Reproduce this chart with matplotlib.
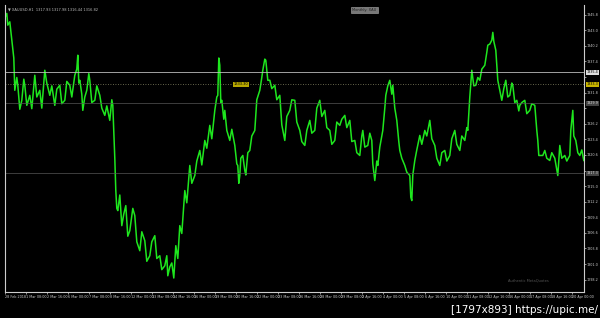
# XAUUSD H1 chart, MetaTrader style

import matplotlib.pyplot as plt

# hour bars (position along the time axis) and prices
bars = [0, 2, 3, 5, 7, 9, 10, 12, 13, 15, 17, 19, 20, 22, 25, 27, 30, 32, 35, 37,
        40, 42, 45, 47, 50, 52, 55, 57, 60, 62, 65, 67, 70, 72, 73, 74, 75, 77, 78, 80,
        82, 84, 85, 87, 90, 92, 95, 97, 100, 102, 105, 107, 108, 110, 111, 112, 113, 115, 117, 119,
        121, 123, 125, 128, 130, 132, 135, 137, 140, 142, 145, 147, 150, 152, 155, 157, 160, 162, 163, 165,
        167, 169, 171, 173, 175, 177, 180, 182, 185, 187, 190, 192, 195, 197, 200, 202, 205, 207, 210, 212,
        213, 214, 215, 216, 217, 219, 220, 222, 225, 227, 230, 232, 233, 234, 235, 236, 238, 240, 241, 243,
        245, 247, 250, 252, 255, 257, 258, 260, 261, 263, 265, 267, 270, 272, 275, 277, 280, 282, 285, 287,
        290, 292, 295, 297, 300, 302, 305, 307, 310, 312, 315, 317, 320, 322, 325, 327, 330, 332, 335, 337,
        340, 342, 345, 347, 350, 352, 355, 357, 358, 360, 363, 365, 367, 368, 370, 372, 373, 375, 378, 380,
        381, 383, 385, 387, 388, 390, 392, 394, 395, 397, 400, 402, 405, 406, 407, 408, 410, 412, 415, 417,
        420, 422, 425, 427, 430, 432, 435, 437, 440, 442, 445, 447, 450, 452, 455, 457, 460, 462, 463, 465,
        467, 469, 471, 473, 475, 477, 480, 482, 483, 485, 487, 488, 489, 491, 493, 495, 497, 499, 501, 503,
        505, 507, 508, 510, 512, 514, 515, 517, 520, 522, 525, 527, 530, 532, 533, 534, 535, 538, 540, 542,
        545, 547, 550, 553, 555, 557, 560, 562, 565, 566, 568, 569, 571, 573, 575, 577, 579]
price = [1345.2, 1346.0, 1343.9, 1344.5, 1341.2, 1338.0, 1332.2, 1334.5, 1333.1, 1328.8,
         1330.4, 1334.2, 1333.1, 1329.5, 1331.3, 1328.9, 1334.9, 1331.0, 1332.2, 1329.0,
         1335.8, 1333.5, 1331.3, 1333.0, 1329.5, 1332.4, 1333.1, 1329.8, 1330.4, 1333.8,
         1333.1, 1331.0, 1334.9, 1336.0, 1338.5, 1333.5, 1334.0, 1331.5, 1328.6, 1331.0,
         1332.2, 1335.2, 1334.0, 1330.0, 1330.4, 1333.0, 1331.3, 1329.0, 1327.7, 1329.4,
         1326.8, 1330.5, 1329.5, 1320.0, 1314.2, 1311.0, 1310.6, 1313.4, 1307.9, 1310.0,
         1311.5, 1306.0, 1307.0, 1311.0, 1309.7, 1305.0, 1303.4, 1306.8, 1305.2, 1301.5,
         1302.5, 1305.0, 1306.1, 1302.0, 1302.5, 1300.0, 1300.7, 1302.5, 1298.9, 1300.5,
         1301.2, 1298.5, 1304.3, 1302.0, 1307.9, 1306.5, 1314.2, 1312.0, 1318.7, 1315.5,
         1316.9, 1319.5, 1321.4, 1318.8, 1323.2, 1321.8, 1325.9, 1323.5, 1328.6, 1331.0,
         1331.3, 1338.0, 1336.7, 1330.0, 1330.4, 1327.0, 1328.6, 1325.0, 1323.2, 1325.2,
         1322.3, 1319.0, 1318.7, 1315.5, 1316.9, 1320.0, 1320.5, 1317.8, 1317.0, 1321.0,
         1321.4, 1324.0, 1325.0, 1330.5, 1332.2, 1334.5, 1335.8, 1337.8, 1337.6, 1334.0,
         1334.0, 1332.5, 1333.1, 1330.5, 1331.3, 1326.0, 1323.2, 1327.5, 1328.6, 1330.5,
         1330.4, 1326.5, 1325.0, 1323.0, 1322.3, 1325.0, 1326.8, 1324.5, 1325.0, 1329.0,
         1330.4, 1327.5, 1328.6, 1325.5, 1325.0, 1322.5, 1323.2, 1326.5, 1325.9, 1327.0,
         1327.7, 1325.5, 1326.8, 1323.0, 1323.2, 1321.0, 1320.5, 1324.0, 1325.0, 1322.0,
         1322.3, 1324.5, 1323.2, 1319.0, 1316.0, 1319.5, 1318.7, 1322.0, 1325.0, 1329.0,
         1331.3, 1333.0, 1334.0, 1331.5, 1333.1, 1329.0, 1326.8, 1323.0, 1321.4, 1320.0,
         1318.7, 1317.5, 1316.9, 1313.0, 1312.4, 1317.0, 1319.6, 1321.5, 1324.1, 1322.5,
         1325.0, 1324.0, 1326.8, 1323.5, 1322.3, 1320.0, 1318.7, 1321.0, 1321.4, 1319.5,
         1320.5, 1323.5, 1325.0, 1322.5, 1321.4, 1324.0, 1323.2, 1325.5, 1325.0, 1331.0,
         1335.8, 1333.0, 1333.1, 1334.5, 1334.0, 1336.0, 1336.7, 1339.0, 1340.3, 1340.5,
         1341.2, 1342.6, 1341.0, 1339.4, 1334.0, 1332.2, 1330.4, 1332.5, 1334.0, 1331.0,
         1331.3, 1333.5, 1333.1, 1330.0, 1330.4, 1328.5, 1329.5, 1330.0, 1330.4, 1328.0,
         1328.6, 1329.8, 1329.5, 1325.0, 1323.2, 1320.5, 1320.5, 1320.5, 1321.4, 1320.0,
         1319.6, 1321.0, 1320.0, 1316.9, 1322.3, 1320.0, 1320.5, 1319.5, 1320.5, 1325.0,
         1328.6, 1324.0, 1323.2, 1321.0, 1320.5, 1321.5, 1319.6]

price_ticks = [1298.2, 1301.0, 1303.8, 1306.6, 1309.4, 1312.2, 1315.0, 1317.8, 1320.6,
               1323.4, 1326.2, 1329.0, 1331.8, 1334.6, 1337.4, 1340.2, 1343.0, 1345.8]
date_pos = [0, 21, 42, 63, 84, 105, 126, 147, 168, 189, 210, 231, 252, 273, 294, 315,
            336, 357, 378, 399, 420, 441, 462, 483, 504, 525, 546, 567]
date_labels = ["28 Feb 2018", "1 Mar 08:00", "2 Mar 16:00", "6 Mar 00:00", "7 Mar 08:00",
               "8 Mar 16:00", "12 Mar 00:00", "13 Mar 08:00", "14 Mar 16:00", "16 Mar 00:00",
               "19 Mar 08:00", "20 Mar 16:00", "22 Mar 00:00", "23 Mar 08:00", "26 Mar 16:00",
               "28 Mar 00:00", "29 Mar 08:00", "2 Apr 16:00", "4 Apr 00:00", "5 Apr 08:00",
               "6 Apr 16:00", "10 Apr 00:00", "11 Apr 08:00", "12 Apr 16:00", "16 Apr 00:00",
               "17 Apr 08:00", "18 Apr 16:00", "20 Apr 00:00"]

# levels drawn on the chart
ask_level = 1335.4
bid_level = 1333.3
level_a = 1329.9
level_b = 1317.3
y_lo, y_hi = 1296.0, 1347.5
levels = [ask_level, bid_level, level_a, level_b]

fig = plt.figure(figsize=(6, 3.18), dpi=100, facecolor='black')
ax = fig.add_axes([0.008, 0.082, 0.965, 0.902], facecolor='black')

ax.plot(bars, price, color='#1ee61e', lw=1.1)

ax.axhline(ask_level, color='#bbbbbb', lw=0.6)
ax.axhline(bid_level, color='#888866', lw=0.6, ls=(0, (1, 2)))
ax.axhline(level_a, color='#555555', lw=0.5)
ax.axhline(level_b, color='#555555', lw=0.5)

ax.set_xlim(0, 579)
ax.set_ylim(y_lo, y_hi)

# scale labels hidden where a level box sits on top of them
ax.yaxis.tick_right()
ax.set_yticks(price_ticks)
ax.set_yticklabels(["" if min(abs(p - lv) for lv in levels) < 1.0 else f"{p:.1f}"
                    for p in price_ticks])
ax.set_xticks(date_pos)
ax.set_xticklabels(date_labels, ha='left')
ax.tick_params(colors='#cccccc', labelsize=2.4, length=1.5, width=0.5, pad=0.8)

ax.spines['top'].set_visible(False)
for side in ['left', 'right', 'bottom']:
    ax.spines[side].set_color('#cccccc')
    ax.spines[side].set_linewidth(0.8)


def frac(v):
    return (v - y_lo) / (y_hi - y_lo)


# price boxes on the right scale
box = dict(boxstyle='square,pad=0.15', lw=0)
ax.text(1.005, frac(ask_level), f"{ask_level:.1f}", transform=ax.transAxes,
        fontsize=2.4, va='center', color='black', bbox=dict(box, fc='#dddddd'))
ax.text(1.005, frac(bid_level), f"{bid_level:.1f}", transform=ax.transAxes,
        fontsize=2.4, va='center', color='black', bbox=dict(box, fc='#c8b400'))
ax.text(1.005, frac(level_a), f"{level_a:.1f}", transform=ax.transAxes,
        fontsize=2.4, va='center', color='#dddddd', bbox=dict(box, fc='#444444'))
ax.text(1.005, frac(level_b), f"{level_b:.1f}", transform=ax.transAxes,
        fontsize=2.4, va='center', color='#dddddd', bbox=dict(box, fc='#444444'))

# small labels inside the chart
ax.text(0.395, frac(bid_level), f"{bid_level:.2f}", transform=ax.transAxes,
        fontsize=2.6, va='center', color='black', bbox=dict(box, fc='#b8a800'))
ax.text(0.006, 0.99, "▼ XAUUSD,H1  1317.93 1317.98 1316.44 1316.82", transform=ax.transAxes,
        fontsize=2.6, va='top', color='#bbbbbb')
ax.text(0.6, 0.99, "Monthly: XAU", transform=ax.transAxes, fontsize=2.6, va='top',
        color='#222222', bbox=dict(boxstyle='square,pad=0.3', fc='#777777', ec='#aaaaaa', lw=0.4))
ax.text(0.94, 0.035, "Authentic MetaQuotes", transform=ax.transAxes, fontsize=2.6,
        ha='right', color='#555555')

fig.text(0.997, 0.008, "[1797x893] https://upic.me/", fontsize=7.5, color='white',
         ha='right', va='bottom')

fig.savefig('out.png', dpi=100, facecolor='black')
